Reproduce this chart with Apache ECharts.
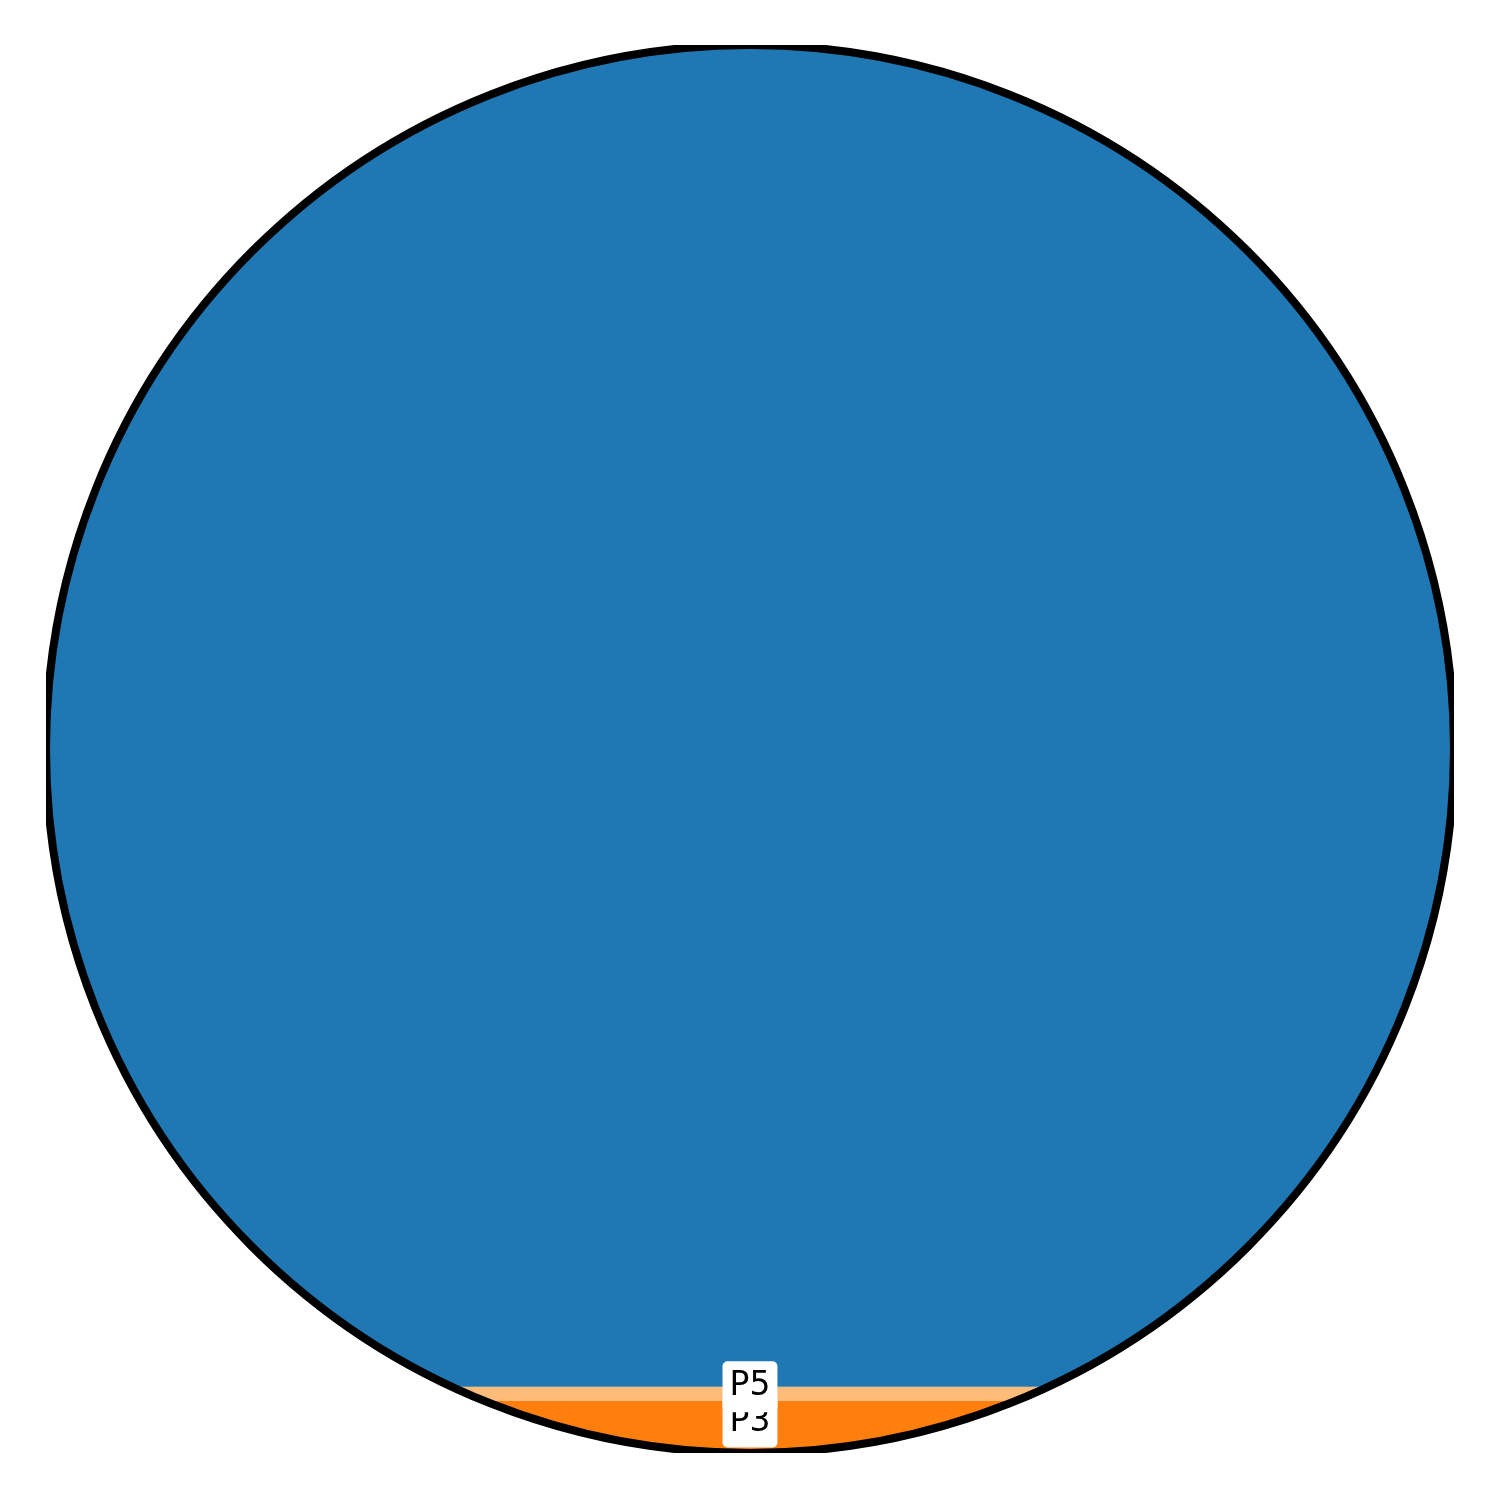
<!DOCTYPE html>
<html>
<head>
<meta charset="utf-8">
<script src="https://cdn.jsdelivr.net/npm/echarts@6/dist/echarts.min.js"></script>
<style>html,body{margin:0;padding:0;background:#fff;}#c{width:1500px;height:1500px;}</style>
</head>
<body>
<div id="c"></div>
<script>
// Data, stacked from the bottom of the circle upward (percent of circle area)
const categories = ['P3', 'P5', 'P1'];
const values = [1.19, 0.52, 98.29];
const showLabel = [true, true, false];
const colors = ['#ff7f0e', '#ffbb78', '#1f77b4'];

// unit-circle segment area from bottom, height h in [0,2]
function segArea(h) {
  const t = 1 - h;
  return Math.acos(t) - t * Math.sqrt(Math.max(0, 1 - t * t));
}
function heightForFraction(f) {
  if (f <= 0) return 0;
  if (f >= 1) return 2;
  let lo = 0, hi = 2;
  for (let i = 0; i < 60; i++) {
    const mid = (lo + hi) / 2;
    if (segArea(mid) / Math.PI < f) lo = mid; else hi = mid;
  }
  return (lo + hi) / 2;
}
const total = values.reduce((a, b) => a + b, 0);
const bands = [];
let cum = 0;
values.forEach((v, i) => {
  const y0 = -1 + heightForFraction(cum / total);
  cum += v;
  const y1 = -1 + heightForFraction(cum / total);
  bands.push([i, y0, y1]);
});

const labelShift = [-5, -7, 0]; // px nudge to avoid overlap

const chart = echarts.init(document.getElementById('c'), null, {renderer: 'canvas'});
chart.setOption({
  animation: false,
  backgroundColor: '#ffffff',
  grid: {left: 46, top: 45, width: 1408, height: 1408},
  xAxis: {type: 'value', min: -1, max: 1, show: false},
  yAxis: {type: 'value', min: -1, max: 1, show: false},
  series: [
    {
      type: 'custom',
      clip: true,
      z: 1,
      data: bands,
      renderItem: function (params, api) {
        const i = api.value(0), ya = api.value(1), yb = api.value(2);
        const N = 240;
        const pts = [];
        for (let k = 0; k <= N; k++) {
          const y = ya + (yb - ya) * k / N;
          pts.push(api.coord([Math.sqrt(Math.max(0, 1 - y * y)), y]));
        }
        for (let k = N; k >= 0; k--) {
          const y = ya + (yb - ya) * k / N;
          pts.push(api.coord([-Math.sqrt(Math.max(0, 1 - y * y)), y]));
        }
        return {type: 'polygon', shape: {points: pts}, style: {fill: colors[i], stroke: null}};
      }
    },
    {
      type: 'custom',
      clip: true,
      z: 2,
      data: [[0, 0]],
      renderItem: function (params, api) {
        const c = api.coord([0, 0]);
        const e = api.coord([1, 0]);
        return {type: 'circle', shape: {cx: c[0], cy: c[1], r: e[0] - c[0]},
          style: {fill: null, stroke: '#000000', lineWidth: 8}};
      }
    },
    {
      type: 'custom',
      clip: true,
      z: 3,
      data: bands.filter(b => showLabel[b[0]]),
      renderItem: function (params, api) {
        const i = api.value(0), ya = api.value(1), yb = api.value(2);
        const p = api.coord([0, (ya + yb) / 2]);
        return {type: 'text', style: {
          text: categories[i], x: p[0], y: p[1] + labelShift[i],
          align: 'center', verticalAlign: 'middle',
          fontSize: 33, fontFamily: 'DejaVu Sans', fill: '#000',
          backgroundColor: '#ffffff', padding: [9, 7, 9, 7], borderRadius: 5
        }};
      }
    }
  ]
});
</script>
</body>
</html>
